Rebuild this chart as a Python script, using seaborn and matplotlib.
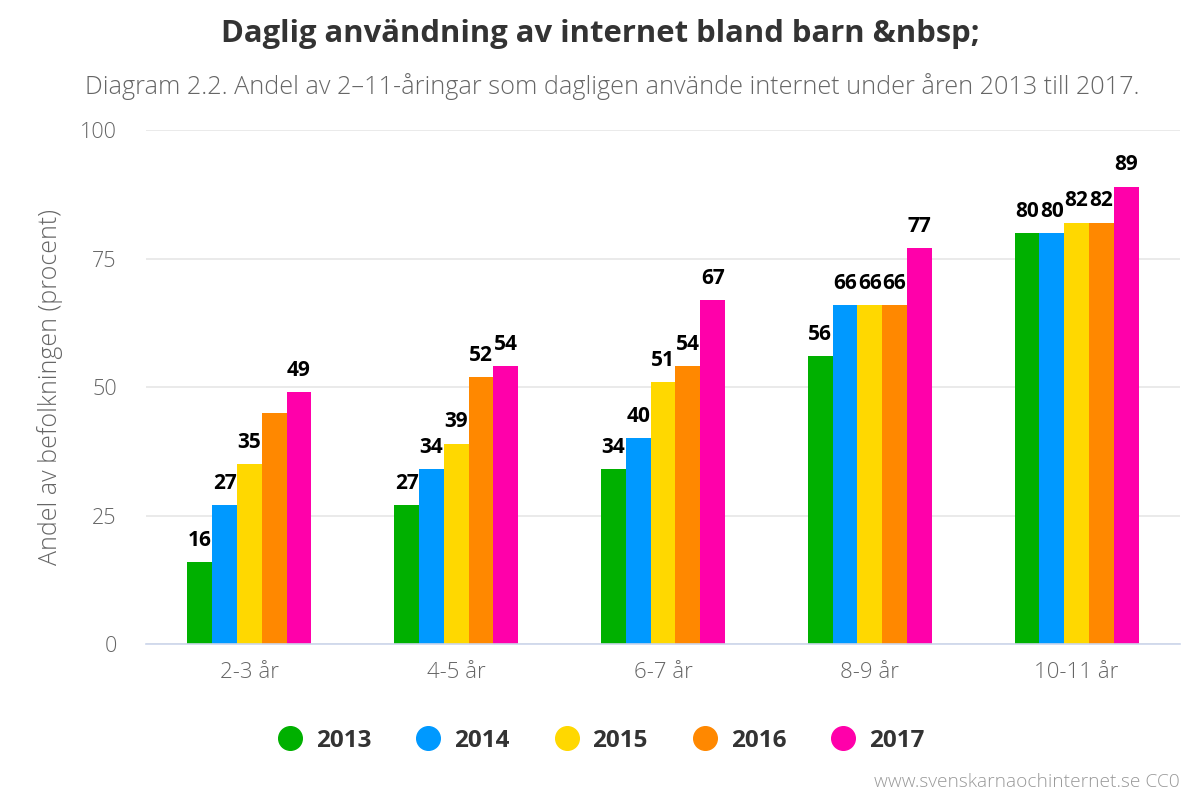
import pandas as pd
import numpy as np
import matplotlib.pyplot as plt
import seaborn as sns
from matplotlib.lines import Line2D
from matplotlib.ticker import FixedLocator

# values
ages = ['2-3 år', '4-5 år', '6-7 år', '8-9 år', '10-11 år']
years = ['2013', '2014', '2015', '2016', '2017']
v2013 = [16, 27, 34, 56, 80]
v2014 = [27, 34, 40, 66, 80]
v2015 = [35, 39, 51, 66, 82]
v2016 = [45, 52, 54, 66, 82]
v2017 = [49, 54, 67, 77, 89]
colors = ['#00B000', '#0099FF', '#FFD800', '#FF8800', '#FF00AA']

df = pd.DataFrame({'age': ages * 5,
                   'year': np.repeat(years, 5),
                   'value': v2013 + v2014 + v2015 + v2016 + v2017})

sns.set_style('white')
plt.rcParams['font.family'] = ['Open Sans', 'DejaVu Sans']

fig = plt.figure(figsize=(12, 8), dpi=100)
ax = fig.add_axes([146/1200, 156/800, 1034/1200, 514/800])

sns.barplot(data=df, x='age', y='value', hue='year', palette=colors,
            width=0.6, dodge=True, ax=ax, legend=False, saturation=1,
            linewidth=0)

# labels (one hidden in the original because it overlapped)
hidden = {('2016', '2-3 år')}
for cont, yr in zip(ax.containers, years):
    labs = []
    for bar, age in zip(cont, ages):
        h = bar.get_height()
        labs.append('' if (yr, age) in hidden else '%d' % round(h))
    ax.bar_label(cont, labels=labs, padding=8, fontsize=15,
                 fontweight='bold', color='black')

ax.set_xlim(-0.5, 4.5)
ax.set_ylim(0, 100)
ax.set_yticks([0, 25, 50, 75, 100])
ax.yaxis.grid(True, color='#e6e6e6', linewidth=1.2)
ax.set_axisbelow(True)
for s in ['top', 'right', 'left']:
    ax.spines[s].set_visible(False)
ax.spines['bottom'].set_color('#ccd6eb')
ax.spines['bottom'].set_linewidth(1.2)

ax.tick_params(axis='y', length=0, pad=21, labelsize=15.5, labelcolor='#666666')
ax.tick_params(axis='x', which='major', length=0, pad=13, labelsize=16,
               labelcolor='#666666')
ax.xaxis.set_minor_locator(FixedLocator(np.arange(-0.5, 5, 1)))
ax.tick_params(axis='x', which='minor', length=11, width=1.2, color='#ccd6eb')
for t in ax.get_yticklabels():
    t.set_fontweight('light')
for t in ax.get_xticklabels():
    t.set_fontweight('light')

ax.set_xlabel('')
ax.set_ylabel('Andel av befolkningen (procent)', fontsize=18, color='#666666',
              labelpad=12, fontweight='light')

fig.text(0.5, 1 - 34/800, 'Daglig användning av internet bland barn &nbsp;',
         ha='center', va='center', fontsize=22.3, fontweight='bold', color='#333333')
fig.text(612/1200, 1 - 87/800,
         'Diagram 2.2. Andel av 2–11-åringar som dagligen använde internet under åren 2013 till 2017.',
         ha='center', va='center', fontsize=18.2, color='#666666', fontweight='light')

handles = [Line2D([], [], marker='o', linestyle='', markersize=17,
                  markerfacecolor=c, markeredgecolor=c) for c in colors]
leg = fig.legend(handles, years, loc='center', bbox_to_anchor=(0.5, 1 - 741/800),
                 ncol=5, frameon=False, handlelength=1.2, handletextpad=0.47,
                 columnspacing=1.74, prop={'size': 17.5, 'weight': 'bold'})
for t in leg.get_texts():
    t.set_color('#333333')

fig.text(1 - 20/1200, 1 - 782/800, 'www.svenskarnaochinternet.se CC0',
         ha='right', va='center', fontsize=13.8, color='#999999', fontweight='light')

fig.savefig('out.png', dpi=100)
